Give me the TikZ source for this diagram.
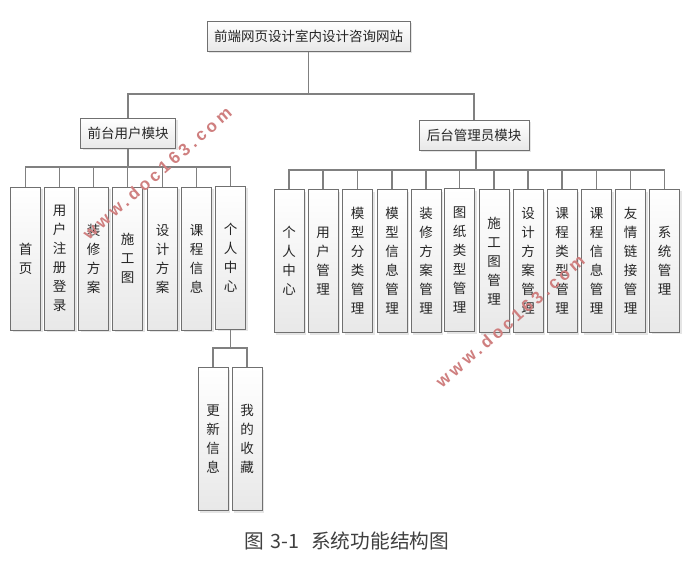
\documentclass[tikz,border=0pt]{standalone}
\usepackage{fontspec}
\usetikzlibrary{shadows}
\setmainfont{Noto Sans CJK SC}
\newfontfamily\markfont[LetterSpace=22]{Liberation Sans}
\definecolor{linkgray}{HTML}{808080}
\definecolor{boxedge}{HTML}{707070}
\definecolor{markred}{HTML}{CF7F7F}
\tikzset{
  box/.style={draw=boxedge,line width=1pt,top color=white,bottom color=black!9,
    drop shadow={shadow xshift=2pt,shadow yshift=-2pt,fill=black,opacity=.1},
    inner sep=0pt,align=center,text=black!85,font=\fontsize{13.5}{19}\selectfont},
  leaf/.style={box,minimum width=30pt,minimum height=143pt},
  link/.style={draw=linkgray,line width=1.6pt},
  stamp/.style={text=markred,rotate=41,font=\markfont\bfseries\fontsize{17}{17}\selectfont}
}
\begin{document}
\begin{tikzpicture}[x=1pt,y=-1pt]
  \useasboundingbox[fill=white] (0,0) rectangle (692,563);
  \node[box,minimum width=203pt,minimum height=30pt] (root) at (308.5,36) {前端网页设计室内设计咨询网站};
  \node[box,minimum width=95pt,minimum height=30pt] (front) at (128,133) {前台用户模块};
  \node[box,minimum width=110pt,minimum height=30pt] (back) at (474,135) {后台管理员模块};
  % front leaves
  \node[leaf] (f1) at (25.5,258.5) {首\\页};
  \node[leaf] (f2) at (59.5,258.5) {用\\户\\注\\册\\登\\录};
  \node[leaf] (f3) at (93.5,258.5) {装\\修\\方\\案};
  \node[leaf] (f4) at (127.5,258.5) {施\\工\\图};
  \node[leaf] (f5) at (162.5,258.5) {设\\计\\方\\案};
  \node[leaf] (f6) at (196.5,258.5) {课\\程\\信\\息};
  \node[leaf] (f7) at (230.5,257.5) {个\\人\\中\\心};
  \node[leaf] (g1) at (213,439) {更\\新\\信\\息};
  \node[leaf] (g2) at (247,439) {我\\的\\收\\藏};
  % back leaves
  \node[leaf] (b1) at (289,261) {个\\人\\中\\心};
  \node[leaf] (b2) at (323,261) {用\\户\\管\\理};
  \node[leaf] (b3) at (357.5,261) {模\\型\\分\\类\\管\\理};
  \node[leaf] (b4) at (392,261) {模\\型\\信\\息\\管\\理};
  \node[leaf] (b5) at (426,261) {装\\修\\方\\案\\管\\理};
  \node[leaf] (b6) at (459.5,260) {图\\纸\\类\\型\\管\\理};
  \node[leaf] (b7) at (494,261) {施\\工\\图\\管\\理};
  \node[leaf] (b8) at (528,261) {设\\计\\方\\案\\管\\理};
  \node[leaf] (b9) at (562,261) {课\\程\\类\\型\\管\\理};
  \node[leaf] (b10) at (596.5,261) {课\\程\\信\\息\\管\\理};
  \node[leaf] (b11) at (630.5,261) {友\\情\\链\\接\\管\\理};
  \node[leaf] (b12) at (664.5,260.5) {系\\统\\管\\理};
  % bus points
  \coordinate (topbus) at (308.5,94);
  \coordinate (frontbus) at (128,167);
  \coordinate (backbus) at (476,170);
  \coordinate (subbus) at (230.5,348);
  \begin{scope}[link]
    \draw (root) -- (topbus);
    \draw (topbus) -| (front);
    \draw (topbus) -| (back);
    \draw (front) -- (frontbus);
    \draw (back.south -| backbus) -- (backbus);
    \draw (f7) -- (subbus);
    \draw (frontbus) -| (f1);
    \draw (frontbus) -| (f2);
    \draw (frontbus) -| (f3);
    \draw (frontbus) -| (f4);
    \draw (frontbus) -| (f5);
    \draw (frontbus) -| (f6);
    \draw (frontbus) -| (f7);
    \draw (subbus) -| (g1);
    \draw (subbus) -| (g2);
    \draw (backbus) -| (b1);
    \draw (backbus) -| (b2);
    \draw (backbus) -| (b3);
    \draw (backbus) -| (b4);
    \draw (backbus) -| (b5);
    \draw (backbus) -| (b6);
    \draw (backbus) -| (b7);
    \draw (backbus) -| (b8);
    \draw (backbus) -| (b9);
    \draw (backbus) -| (b10);
    \draw (backbus) -| (b11);
    \draw (backbus) -| (b12);
  \end{scope}
  \node[stamp] (stamp1) at (157,173) {www.doc163.com};
  \node[stamp] (stamp2) at (510,321) {www.doc163.com};
  \node[inner sep=0pt,text=black!75,font=\fontsize{19.7}{20}\selectfont] (caption) at (347,541) {图\hspace{6pt}3-1\hspace{12pt}系统功能结构图};
\end{tikzpicture}
\end{document}
